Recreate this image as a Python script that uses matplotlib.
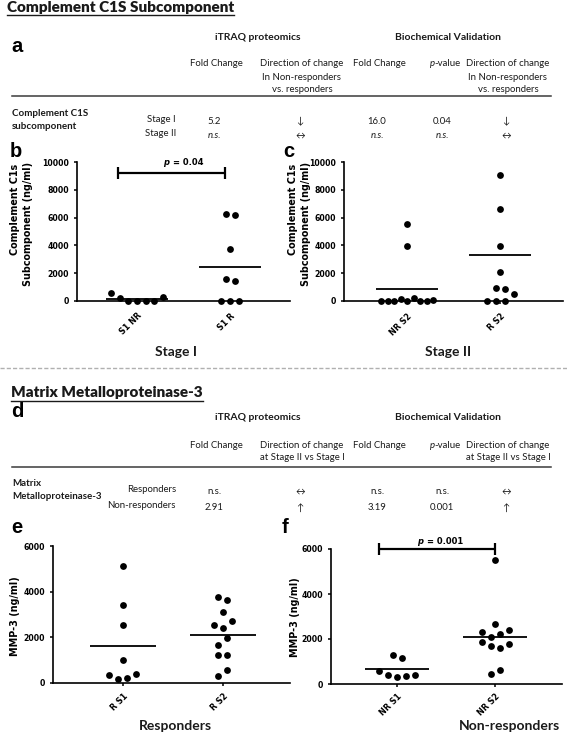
import matplotlib
matplotlib.use('Agg')
import matplotlib.pyplot as plt
from matplotlib.lines import Line2D
import numpy as np

# ---- data ----
# column scatter values (ng/ml); within a row of dots, list order = left to right
s1_nr = [550, 190, 0, 0, 0, 0, 310]
s1_r = [0, 0, 0, 1590, 1440, 3770, 6250, 6180]
nr_s2_c1s = [30, 20, 10, 140, 0, 240, 30, 20, 70, 3990, 5530]
r_s2_c1s = [0, 0, 0, 480, 960, 870, 2070, 3940, 6610, 9090]
r_s1_mmp = [340, 180, 230, 410, 1000, 2530, 3400, 5120]
r_s2_mmp = [320, 560, 1220, 1220, 1680, 1980, 2550, 2420, 2720, 3120, 3760, 3650]
nr_s1_mmp = [590, 400, 330, 370, 400, 1270, 1170]
nr_s2_mmp = [440, 620, 1870, 1690, 1600, 1760, 2310, 2070, 2220, 2390, 2670, 5510]

# horizontal mean lines as drawn
means_b = [150, 2430]
means_c = [840, 3320]
means_e = [1640, 2090]
means_f = [670, 2100]

labels_b = ['S1 NR', 'S1 R']
labels_c = ['NR S2', 'R S2']
labels_e = ['R S1', 'R S2']
labels_f = ['NR S1', 'NR S2']

yticks_c1s = [0, 2000, 4000, 6000, 8000, 10000]
yticks_mmp = [0, 2000, 4000, 6000]

# tables
head_cols = ['Fold Change', 'Direction of change', 'Fold Change', 'p-value', 'Direction of change']
head_a_extra = ['In Non-responders', 'vs. responders']
head_d_extra = ['at Stage II vs Stage I']
rows_a = [['5.2', '\u2193', '16.0', '0.04', '\u2193'],
          ['n.s.', '\u2194', 'n.s.', 'n.s.', '\u2194']]
rows_a_names = ['Stage I', 'Stage II']
rows_d = [['n.s.', '\u2194', 'n.s.', 'n.s.', '\u2194'],
          ['2.91', '\u2191', '3.19', '0.001', '\u2191']]
rows_d_names = ['Responders', 'Non-responders']

W, H = 567, 734
fig = plt.figure(figsize=(W / 100, H / 100), dpi=100)
TXT = ['Lato', 'DejaVu Sans']
AX_FONT = 'DejaVu Sans'


def fx(x):
    return x / W


def fy(y):
    return 1 - y / H


def put(x, y, s, **kw):
    kw.setdefault('family', TXT)
    kw.setdefault('fontsize', 6.9)
    kw.setdefault('va', 'center')
    kw.setdefault('color', '#1a1a1a')
    return fig.text(fx(x), fy(y), s, **kw)


def hline(x0, x1, y, **kw):
    fig.add_artist(Line2D([fx(x0), fx(x1)], [fy(y), fy(y)], **kw))


def title(x, y, s, uy):
    t = put(x, y, s, fontsize=11, weight='heavy', va='baseline')
    fig.canvas.draw()
    bb = t.get_window_extent()
    fig.add_artist(Line2D([bb.x0 / W, bb.x1 / W], [fy(uy), fy(uy)], color='#1a1a1a', lw=1.0))


col_x = [216, 302, 379, 444, 508]


def table(top, extra, names, rows, row_y, label_lines, label_y, italic_row):
    # top = y of the group headers
    put(258, top, 'iTRAQ proteomics', fontsize=7.5, weight='bold', ha='center')
    put(448, top, 'Biochemical Validation', fontsize=7.5, weight='bold', ha='center')
    hy = top + 27
    for cx, h in zip(col_x, head_cols):
        if h == 'p-value':
            put(cx - 9, hy, 'p', style='italic', ha='right')
            put(cx - 10, hy, '-value', ha='left')
        else:
            put(cx, hy, h, ha='center')
    for k, e in enumerate(extra):
        for cx in (col_x[1], col_x[4]):
            put(cx, hy + 13 * (k + 1), e, ha='center')
    for k, ln in enumerate(label_lines):
        put(12, label_y + 13.5 * k, ln, fontsize=7, weight='bold', ha='left')
    for r, (nm, vals) in enumerate(zip(names, rows)):
        put(176, row_y[r], nm, ha='right')
        for cx, v in zip(col_x, vals):
            st = 'italic' if (r == italic_row and v == 'n.s.') else 'normal'
            put(cx - 2, row_y[r] + 2, v, ha='center', style=st)


def swarm_offsets(values, dot_px, ux, uy, max_row_px=52):
    vals = np.asarray(values, float)
    order = np.argsort(vals, kind='stable')
    rows = []
    for i in order:
        if rows and (vals[i] - vals[rows[-1][0]]) * uy < dot_px:
            rows[-1].append(i)
        else:
            rows.append([i])
    off = np.zeros(len(vals))
    for row in rows:
        row.sort()
        n = len(row)
        step = dot_px if n < 2 else min(dot_px, max_row_px / (n - 1))
        for k, i in enumerate(row):
            off[i] = (k - (n - 1) / 2) * step / ux
    return off


def dot_panel(box, groups, means, labels, yticks, lpad):
    left, right, ytop, ybot, c0, c1 = box
    ymax = yticks[-1]
    ax = fig.add_axes([fx(left), fy(ybot), (right - left) / W, (ybot - ytop) / H])
    ux = c1 - c0
    uy = (ybot - ytop) / ymax
    ax.set_xlim((left - c0) / ux, (right - c0) / ux)
    ax.set_ylim(0, ymax)
    for i, vals in enumerate(groups):
        xs = i + swarm_offsets(vals, 9, ux, uy)
        ax.scatter(xs, vals, s=24, color='black', zorder=3, clip_on=False, linewidths=0)
        ax.hlines(means[i], i - 0.33, i + 0.33, color='black', lw=1.3, zorder=2)
    for s in ('top', 'right'):
        ax.spines[s].set_visible(False)
    for s in ('left', 'bottom'):
        ax.spines[s].set_linewidth(1.2)
    ax.set_yticks(yticks)
    ax.set_xticks([0, 1])
    ax.set_xticklabels(labels, rotation=45, ha='right', rotation_mode='anchor')
    ax.tick_params(axis='y', length=2.5, width=1.1, pad=3, labelsize=5.6)
    ax.tick_params(axis='x', length=2.5, width=1.1, pad=lpad, labelsize=5.8)
    for lbl in ax.get_xticklabels() + ax.get_yticklabels():
        lbl.set_fontfamily(AX_FONT)
        lbl.set_fontweight('bold')
    return ax


def bracket(ax, x0, x1, y, dy, xj, ptxt, ty):
    ax.plot([x0, x1], [y, y], color='black', lw=1.6, clip_on=False, solid_capstyle='butt')
    ax.vlines([x0, x1], y - dy, y + dy, color='black', lw=1.6, clip_on=False)
    ax.annotate('p', (xj, ty), xytext=(-1, 0), textcoords='offset points', ha='right', va='center',
                fontsize=6, style='italic', weight='bold', family=AX_FONT, annotation_clip=False)
    ax.annotate(ptxt, (xj, ty), xytext=(1.5, 0), textcoords='offset points', ha='left', va='center',
                fontsize=6, weight='bold', family=AX_FONT, annotation_clip=False)


def ylab(x, y, s, va):
    put(x, y, s, family=AX_FONT, fontsize=6.9, weight='bold', rotation=90, ha='center', va=va,
        color='black')


# ---- section 1: Complement C1S ----
title(7, 12, 'Complement C1S Subcomponent', 14.5)
put(11, 52, 'a', family='Liberation Sans', fontsize=14.5, weight='bold', va='baseline', color='black')
table(37, head_a_extra, rows_a_names, rows_a, [119, 134],
      ['Complement C1S', 'subcomponent'], 113, 1)
hline(12, 551, 96, color='#3a3a3a', lw=1.1)

put(10, 157, 'b', family='Liberation Sans', fontsize=14.5, weight='bold', va='baseline', color='black')
put(283, 157, 'c', family='Liberation Sans', fontsize=14.5, weight='bold', va='baseline', color='black')

ax_b = dot_panel((77, 290, 162, 301, 137, 230), [s1_nr, s1_r], means_b, labels_b, yticks_c1s, 5)
bracket(ax_b, -0.2, 0.95, 9210, 450, 0.36, '= 0.04', 9930)
ax_c = dot_panel((344, 563, 162, 301, 407, 500), [nr_s2_c1s, r_s2_c1s], means_c, labels_c, yticks_c1s, 5)

ylab(15, 164, 'Complement C1s', 'top')
ylab(28, 162, 'Subcomponent (ng/ml)', 'top')
ylab(293, 164, 'Complement C1s', 'top')
ylab(306, 162, 'Subcomponent (ng/ml)', 'top')

put(176, 352, 'Stage I', fontsize=10, weight='bold', ha='center')
put(448, 352, 'Stage II', fontsize=10, weight='bold', ha='center')

fig.add_artist(Line2D([0, 1], [fy(368), fy(368)], color='#b0b0b0', lw=1.0, linestyle=(0, (3, 1.5))))

# ---- section 2: MMP-3 ----
title(11, 397, 'Matrix Metalloproteinase-3', 400.5)
put(11, 417, 'd', family='Liberation Sans', fontsize=14.5, weight='bold', va='baseline', color='black')
table(418, head_d_extra, rows_d_names, rows_d, [490, 506],
      ['Matrix', 'Metalloproteinase-3'], 483, -1)
hline(12, 551, 467, color='#3a3a3a', lw=1.1)

put(11, 533, 'e', family='Liberation Sans', fontsize=14.5, weight='bold', va='baseline', color='black')
put(282, 533, 'f', family='Liberation Sans', fontsize=14.5, weight='bold', va='baseline', color='black')

ax_e = dot_panel((53, 290, 546, 683, 123, 223), [r_s1_mmp, r_s2_mmp], means_e, labels_e, yticks_mmp, 3.5)
ax_f = dot_panel((331, 562, 549, 684, 397, 495), [nr_s1_mmp, nr_s2_mmp], means_f, labels_f, yticks_mmp, 3.5)
bracket(ax_f, -0.18, 1.0, 6000, 270, 0.28, '= 0.001', 6330)

ylab(15, 616, 'MMP-3 (ng/ml)', 'center')
ylab(295, 617, 'MMP-3 (ng/ml)', 'center')

put(175, 726, 'Responders', fontsize=10, weight='bold', ha='center')
put(509, 726, 'Non-responders', fontsize=10, weight='bold', ha='center')

fig.savefig('out.png', dpi=100)
